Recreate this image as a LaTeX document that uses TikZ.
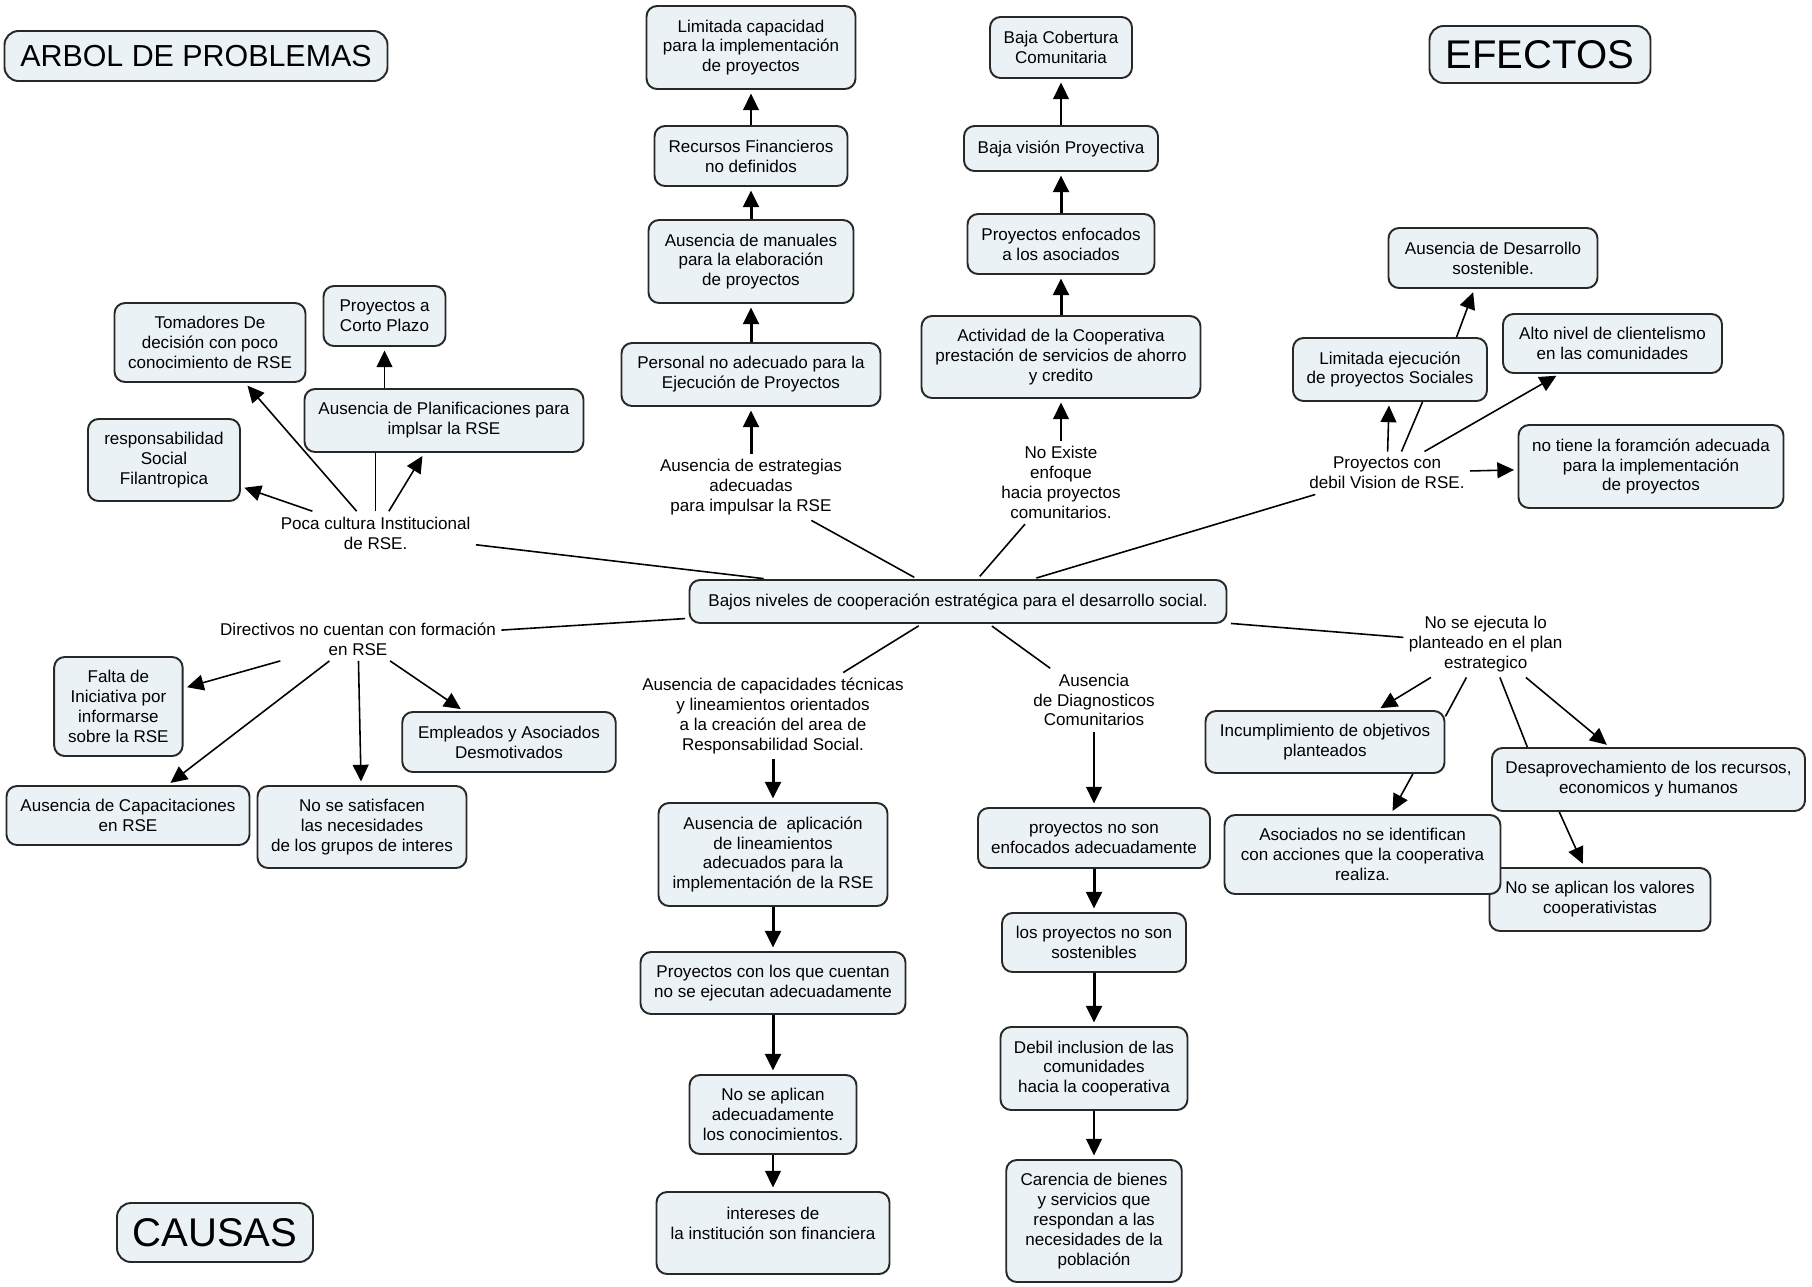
\documentclass[tikz,border=0pt]{standalone}
\usepackage{fontspec}
\setmainfont{Liberation Sans}
\usetikzlibrary{arrows.meta}
\definecolor{cmapfill}{RGB}{235,242,245}
\definecolor{cmapline}{RGB}{40,40,40}

\begin{document}
\begin{tikzpicture}[x=0.02cm,y=-0.02cm]
\tikzstyle{every node}=[font=\fontsize{9.7}{11.3}\selectfont, align=center]
\tikzstyle{concept}=[draw=cmapline, line width=1.1pt, fill=cmapfill, rounded corners=6pt, inner sep=2pt]
\tikzstyle{title}=[concept, rounded corners=8pt]
\tikzstyle{phrase}=[inner sep=3pt]
\tikzset{dim/.style 2 args={minimum width=#1*0.02cm, minimum height=#2*0.02cm}}
\tikzstyle{link}=[line width=0.9pt]
\tikzstyle{arr}=[link, -{Triangle[length=9.5pt,width=9pt]}, shorten >=2pt]
\tikzstyle{arrthk}=[arr, line width=1.7pt]
\useasboundingbox (0,0) rectangle (1812,1286);
\draw (196,56) node (arbol) [title, dim={383}{50}, font=\fontsize{17.3}{20}\selectfont] {ARBOL DE PROBLEMAS};
\draw (1540,54.5) node (efect) [title, dim={221}{57}, font=\fontsize{22.8}{26}\selectfont] {EFECTOS};
\draw (215,1232.5) node (causa) [title, dim={196}{59}, font=\fontsize{22.8}{26}\selectfont] {CAUSAS};
\draw (958,601.5) node (bajos) [concept, dim={537}{43}] {Bajos niveles de cooperación estratégica para el desarrollo social.};
\draw (751,47.5) node (limcap) [concept, dim={209}{83}] {Limitada capacidad\\para la implementación\\de proyectos};
\draw (751,156) node (recfin) [concept, dim={193}{60}] {Recursos Financieros\\no definidos};
\draw (751,261.5) node (ausman) [concept, dim={205}{83}] {Ausencia de manuales\\para la elaboración\\de proyectos};
\draw (751,374.5) node (persnl) [concept, dim={259}{63}] {Personal no adecuado para la\\Ejecución de Proyectos};
\draw (751,487) node (estrat) [phrase] {Ausencia de estrategias\\adecuadas\\para impulsar la RSE};
\draw (1061,47.5) node (bajcob) [concept, dim={142}{61}] {Baja Cobertura\\Comunitaria};
\draw (1061,148.5) node (bajvis) [concept, dim={194}{45}] {Baja visión Proyectiva};
\draw (1061,244) node (proenf) [concept, dim={187}{60}] {Proyectos enfocados\\a los asociados};
\draw (1061,357) node (activ) [concept, dim={279}{82}] {Actividad de la Cooperativa\\prestación de servicios de ahorro\\y credito};
\draw (1061,482.5) node (noexis) [phrase] {No Existe\\enfoque\\hacia proyectos\\comunitarios.};
\draw (210,342.5) node (tomad) [concept, dim={191}{79}] {Tomadores De\\decisión con poco\\conocimiento de RSE};
\draw (384.5,316) node (corto) [concept, dim={122}{60}] {Proyectos a\\Corto Plazo};
\draw (444,420.5) node (planif) [concept, dim={279}{63}] {Ausencia de Planificaciones para\\implsar la RSE};
\draw (164,460) node (filan) [concept, dim={152}{82}] {responsabilidad\\Social\\Filantropica};
\draw (375.6,533) node (poca) [phrase] {Poca cultura Institucional\\de RSE.};
\draw (1493,258) node (desarr) [concept, dim={209}{60}] {Ausencia de Desarrollo\\sostenible.};
\draw (1390,369.5) node (limej) [concept, dim={194}{63}] {Limitada ejecución\\de proyectos Sociales};
\draw (1612.5,343.5) node (client) [concept, dim={219}{59}] {Alto nivel de clientelismo\\en las comunidades};
\draw (1651,466.5) node (notien) [concept, dim={265}{83}] {no tiene la foramción adecuada\\para la implementación\\de proyectos};
\draw (1387,473) node (provis) [phrase] {Proyectos con\\debil Vision de RSE.};
\draw (358,639) node (direct) [phrase] {Directivos no cuentan con formación\\en RSE};
\draw (118.4,706.5) node (falta) [concept, dim={128.5}{99}] {Falta de\\Iniciativa por\\informarse\\sobre la RSE};
\draw (509,742) node (emplea) [concept, dim={213.5}{60}] {Empleados y Asociados\\Desmotivados};
\draw (128,815.5) node (capac) [concept, dim={243}{59}] {Ausencia de Capacitaciones\\en RSE};
\draw (362,827) node (nosat) [concept, dim={209}{82}] {No se satisfacen\\las necesidades\\de los grupos de interes};
\draw (773,716) node (tecnic) [phrase] {Ausencia de capacidades técnicas\\y lineamientos orientados\\a la creación del area de\\Responsabilidad Social.};
\draw (773,854.5) node (aplic) [concept, dim={229}{103}] {Ausencia de\ \ aplicación\\de lineamientos\\adecuados para la\\implementación de la RSE};
\draw (773,983) node (procue) [concept, dim={265}{62}] {Proyectos con los que cuentan\\no se ejecutan adecuadamente};
\draw (773,1114.5) node (noapl) [concept, dim={167}{79}] {No se aplican\\adecuadamente\\los conocimientos.};
\draw (773,1233) node (interes) [concept, dim={233}{82}] {intereses de\\la institución son financiera\\\mbox{}};
\draw (1094,700) node (diagn) [phrase] {Ausencia\\de Diagnosticos\\Comunitarios};
\draw (1094,838) node (noenf) [concept, dim={232}{60}] {proyectos no son\\enfocados adecuadamente};
\draw (1094,942.5) node (nosost) [concept, dim={184}{59}] {los proyectos no son\\sostenibles};
\draw (1094,1068.5) node (debil) [concept, dim={187}{83}] {Debil inclusion de las\\comunidades\\hacia la cooperativa};
\draw (1094,1221) node (carenc) [concept, dim={175.5}{122}] {Carencia de bienes\\y servicios que\\respondan a las\\necesidades de la\\población};
\draw (1485.7,644) node (noejec) [phrase] {No se ejecuta lo\\planteado en el plan\\estrategico};
\draw (1325,742) node (incump) [concept, dim={239}{62}] {Incumplimiento de objetivos\\planteados};
\draw (1648.5,779.5) node (desap) [concept, dim={313}{63}] {Desaprovechamiento de los recursos,\\economicos y humanos};
\draw (1600,899.5) node (valor) [concept, dim={221}{63}] {No se aplican los valores\\cooperativistas};
\draw (1362.5,854.5) node (asoc) [concept, dim={276}{79}] {Asociados no se identifican\\con acciones que la cooperativa\\realiza.};
\draw[arrthk] (estrat) -- (persnl);
\draw[arrthk] (persnl) -- (ausman);
\draw[arrthk] (ausman) -- (recfin);
\draw[arr] (recfin) -- (limcap);
\draw[arr] (noexis) -- (activ);
\draw[arrthk] (activ) -- (proenf);
\draw[arrthk] (proenf) -- (bajvis);
\draw[arr] (bajvis) -- (bajcob);
\draw[link, shorten <=2pt] (bajos) -- (estrat);
\draw[link, shorten <=2pt] (bajos) -- (noexis);
\draw[link, shorten <=2pt] (bajos) -- (poca);
\draw[link, shorten <=2pt] (bajos) -- (provis);
\draw[link, shorten <=2pt] (bajos) -- (direct);
\draw[link, shorten <=2pt] (bajos) -- (tecnic);
\draw[link, shorten <=2pt] (bajos) -- (diagn);
\draw[link, shorten <=2pt] (bajos) -- (noejec);
\draw[arr] (poca) -- (filan);
\draw[arr] (poca) -- (tomad);
\draw[link] (poca.north) -- (poca.north |- planif.south);
\draw[arr] (poca) -- (planif);
\draw[arr] (corto.south |- planif.north) -- (corto);
\draw[arr] (provis) -- (limej);
\draw[link] (provis.56) -- (limej.-45);
\draw[arr] (limej.26) -- (desarr.-121);
\draw[arr] (provis) -- (client);
\draw[arr] (provis) -- (notien);
\draw[arr] (direct) -- (falta);
\draw[arr] (direct) -- (capac);
\draw[arr] (direct) -- (nosat);
\draw[arr] (direct) -- (emplea);
\draw[arrthk] (tecnic) -- (aplic);
\draw[arrthk] (aplic) -- (procue);
\draw[arrthk] (procue) -- (noapl);
\draw[arr] (noapl) -- (interes);
\draw[arr] (diagn) -- (noenf);
\draw[arrthk] (noenf) -- (nosost);
\draw[arrthk] (nosost) -- (debil);
\draw[arr] (debil) -- (carenc);
\draw[arr] (noejec) -- (incump);
\draw[link] (noejec.-120) -- (incump.12);
\draw[link] (noejec.-67) -- (desap.165);
\draw[arr] (noejec) -- (desap);
\draw[arr] (incump.-20) -- (asoc.55);
\draw[arr] (desap.-160) -- (valor.116);
\end{tikzpicture}
\end{document}
